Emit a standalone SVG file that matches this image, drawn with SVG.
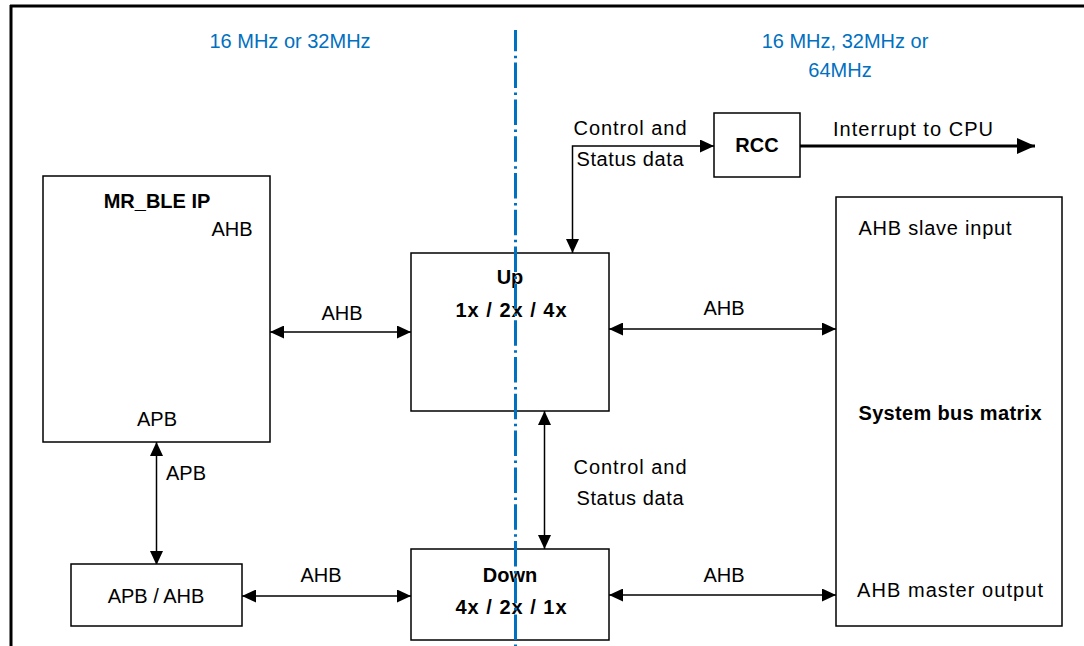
<svg xmlns="http://www.w3.org/2000/svg" width="1084" height="646" viewBox="0 0 1084 646">
<style>
.box{fill:#fff;stroke:#000;stroke-width:1.5}
.t{font-family:"Liberation Sans",Arial,sans-serif;font-size:20px;fill:#000;text-anchor:middle}
.b{font-weight:bold}
.blue{fill:#0070C0}
.ln{fill:none;stroke:#000;stroke-width:1.5}
.thick{fill:none;stroke:#000;stroke-width:3}
</style>
<defs>
<marker id="ah" markerUnits="userSpaceOnUse" markerWidth="15" markerHeight="13" refX="14" refY="6.5" orient="auto-start-reverse" viewBox="0 0 15 13">
<path d="M0,0 L14,6.5 L0,13 z" fill="#000"/>
</marker>
<marker id="ahb" markerUnits="userSpaceOnUse" markerWidth="19" markerHeight="16" refX="18" refY="8" orient="auto" viewBox="0 0 19 16">
<path d="M0,0 L18,8 L0,16 z" fill="#000"/>
</marker>
</defs>
<rect width="1084" height="646" fill="#fff"/>
<g id="frame">
<line x1="10" y1="6" x2="1084" y2="6" stroke="#000" stroke-width="3"/>
<line x1="11" y1="5" x2="11" y2="646" stroke="#000" stroke-width="3"/>
</g>
<g id="connectors">
<line class="ln" x1="270" y1="332" x2="411" y2="332" marker-start="url(#ah)" marker-end="url(#ah)"/>
<text class="t" x="342" y="320">AHB</text>
<line class="ln" x1="609" y1="329" x2="836" y2="329" marker-start="url(#ah)" marker-end="url(#ah)"/>
<text class="t" x="724" y="315">AHB</text>
<line class="ln" x1="242" y1="596" x2="411" y2="596" marker-start="url(#ah)" marker-end="url(#ah)"/>
<text class="t" x="321" y="582">AHB</text>
<line class="ln" x1="609" y1="595" x2="836" y2="595" marker-start="url(#ah)" marker-end="url(#ah)"/>
<text class="t" x="724" y="582">AHB</text>
<line class="ln" x1="156.5" y1="442" x2="156.5" y2="565" marker-start="url(#ah)" marker-end="url(#ah)"/>
<text class="t" x="186" y="480">APB</text>
<line class="ln" x1="544.5" y1="411" x2="544.5" y2="549" marker-start="url(#ah)" marker-end="url(#ah)"/>
<text class="t" x="630" y="474" textLength="113">Control and</text>
<text class="t" x="630" y="505" textLength="107">Status data</text>
<path class="ln" d="M714,146 L572.5,146 L572.5,253" marker-start="url(#ah)" marker-end="url(#ah)"/>
<text class="t" x="630" y="135" textLength="113">Control and</text>
<text class="t" x="630" y="166" textLength="107">Status data</text>
<line class="thick" x1="800" y1="146" x2="1035" y2="146" marker-end="url(#ahb)"/>
<text class="t" x="913" y="136" textLength="160">Interrupt to CPU</text>
</g>
<g id="mr_ble">
<rect class="box" x="43" y="176" width="227" height="266"/>
<text class="t b" x="157" y="208">MR_BLE IP</text>
<text class="t" x="232" y="236">AHB</text>
<text class="t" x="157" y="426">APB</text>
</g>
<g id="up">
<rect class="box" x="411" y="253" width="198" height="158"/>
<text class="t b" x="510" y="284">Up</text>
<text class="t b" x="511" y="317" textLength="111">1x / 2x / 4x</text>
</g>
<g id="down">
<rect class="box" x="411" y="549" width="198" height="91"/>
<text class="t b" x="510" y="582">Down</text>
<text class="t b" x="511" y="614" textLength="111">4x / 2x / 1x</text>
</g>
<g id="apb_ahb">
<rect class="box" x="71" y="564" width="171" height="62"/>
<text class="t" x="156" y="603">APB / AHB</text>
</g>
<g id="rcc">
<rect class="box" x="714" y="113" width="86" height="64"/>
<text class="t b" x="757" y="152">RCC</text>
</g>
<g id="sysbus">
<rect class="box" x="836" y="197" width="226" height="429"/>
<text class="t" x="935" y="235" textLength="153">AHB slave input</text>
<text class="t b" x="950" y="420" textLength="183">System bus matrix</text>
<text class="t" x="950" y="597" textLength="186">AHB master output</text>
</g>
<g id="divider">
<line x1="515.5" y1="30" x2="515.5" y2="646" stroke="#0070C0" stroke-width="3" stroke-dasharray="25.5 4.5 2.5 4.3" stroke-dashoffset="4.2"/>
<text class="t blue" x="290" y="48">16 MHz or 32MHz</text>
<text class="t blue" x="845" y="48">16 MHz, 32MHz or</text>
<text class="t blue" x="840" y="77">64MHz</text>
</g>
</svg>
